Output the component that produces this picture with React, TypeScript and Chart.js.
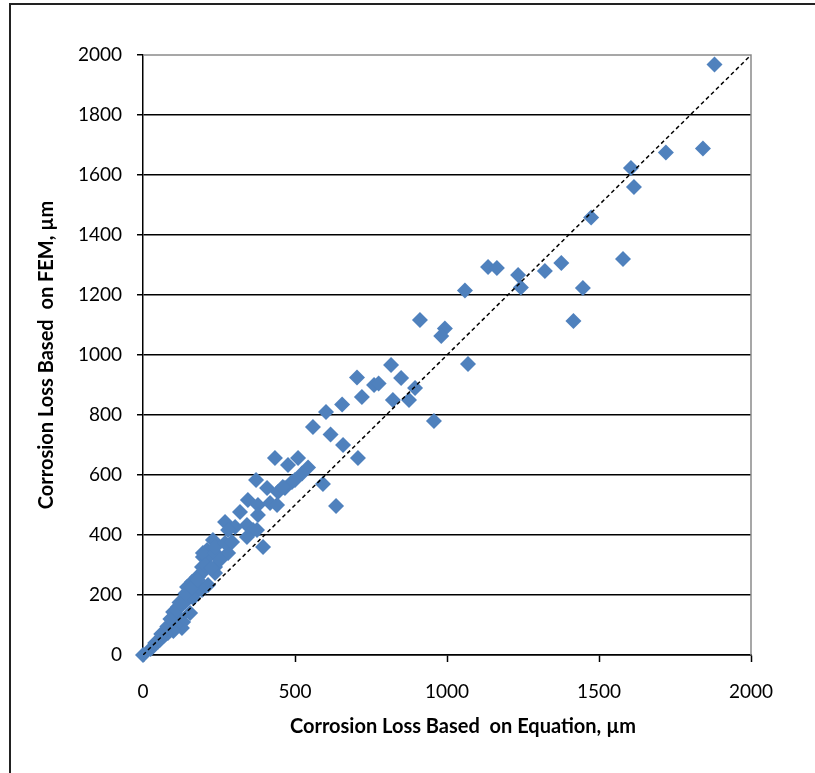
import React, { useEffect, useRef } from "react";
import { Chart, registerables } from "chart.js";

Chart.register(...registerables);

const xTickValues = [0, 500, 1000, 1500, 2000];
const yTickValues = [0, 200, 400, 600, 800, 1000, 1200, 1400, 1600, 1800, 2000];

const equationLoss = [
  1880, 1842, 1720, 1605, 1615, 1474, 1579, 1376, 1322, 1447, 1416, 1234, 1243, 1135, 1164, 1059, 993, 981, 1069, 911,
  816, 849, 760, 775, 704, 720, 655, 602, 822, 875, 895, 957, 559, 617, 658, 707, 592, 635,
  434, 477, 510, 543, 523, 490, 372, 408, 444, 467, 345, 378, 418, 441, 319, 378, 270, 342, 303, 362, 395, 230, 280, 342, 375,
  211, 197, 243, 280, 237, 194, 178,
  0, 25, 40, 50, 62, 70, 82, 90, 95, 105, 99, 115, 138, 155, 132, 128, 145, 161, 181, 214, 194, 171, 197, 237, 211, 197, 237, 253, 237, 270, 293,
  120, 108, 100, 75, 55, 150, 165, 130, 460, 500,
  60, 80, 90, 110, 120, 140, 160, 180, 205, 225
];
const femLoss = [
  1968, 1688, 1675, 1623, 1560, 1458, 1320, 1307, 1280, 1223, 1113, 1267, 1225, 1293, 1290, 1215, 1088, 1063, 970, 1117,
  967, 923, 900, 905, 925, 860, 835, 810, 850, 850, 890, 780, 760, 735, 700, 657, 570, 497,
  657, 633, 657, 625, 605, 577, 583, 557, 543, 557, 517, 500, 507, 500, 477, 467, 443, 433, 427, 417, 360, 383, 417, 393, 417,
  350, 327, 333, 340, 293, 293, 260,
  0, 20, 40, 45, 60, 65, 73, 85, 93, 117, 143, 160, 177, 140, 110, 90, 227, 243, 260, 233, 217, 207, 277, 273, 323, 340, 340, 317, 360, 373, 377,
  125, 100, 80, 70, 50, 200, 190, 170, 560, 583,
  70, 95, 120, 150, 175, 205, 225, 250, 300, 290
];
const lineX = [0, 2000];
const lineY = [0, 2000];

const xTitle = "Corrosion Loss Based  on Equation, µm";
const yTitle = "Corrosion Loss Based  on FEM, µm";

export default function App() {
  const ref = useRef<HTMLCanvasElement | null>(null);
  useEffect(() => {
    if (!ref.current) return;
    const points = equationLoss.map((x, i) => ({ x, y: femLoss[i] }));
    const linePts = lineX.map((x, i) => ({ x, y: lineY[i] }));
    const framePlugin = {
      id: "frame",
      beforeDatasetsDraw(chart: any) {
        const { ctx, chartArea } = chart;
        ctx.save();
        ctx.strokeStyle = "#8a8a8a";
        ctx.lineWidth = 1.5;
        ctx.beginPath();
        ctx.moveTo(chartArea.left, chartArea.top);
        ctx.lineTo(chartArea.right, chartArea.top);
        ctx.lineTo(chartArea.right, chartArea.bottom);
        ctx.stroke();
        ctx.restore();
      },
      afterDraw(chart: any) {
        const { ctx } = chart;
        ctx.save();
        ctx.strokeStyle = "#222";
        ctx.lineWidth = 2;
        ctx.beginPath();
        ctx.moveTo(10, 773);
        ctx.lineTo(10, 4);
        ctx.lineTo(815, 4);
        ctx.stroke();
        ctx.fillStyle = "#000";
        ctx.font = "bold 20px Lato";
        ctx.textAlign = "center";
        ctx.textBaseline = "middle";
        ctx.fillText(xTitle, 463, 727);
        ctx.restore();
      },
    };
    const tickFont = { family: "Lato", size: 19 };
    const titleFont = { family: "Lato", size: 20, weight: "bold" as const };
    const fmt = (v: any) => String(v);
    const chart = new Chart(ref.current, {
      type: "scatter",
      data: {
        datasets: [
          {
            type: "line",
            data: linePts,
            borderColor: "#000",
            borderWidth: 1.5,
            borderDash: [4, 3],
            pointRadius: 0,
            fill: false,
            order: 0,
          } as any,
          {
            data: points,
            pointStyle: "rectRot",
            pointRadius: 8,
            pointHoverRadius: 8,
            backgroundColor: "#4F81BD",
            borderColor: "#4F81BD",
            borderWidth: 0,
            clip: false,
            order: 1,
          } as any,
        ],
      },
      options: {
        responsive: false,
        animation: false,
        layout: { padding: { left: 0, top: 55, right: 64, bottom: 0 } },
        plugins: { legend: { display: false }, tooltip: { enabled: false } },
        scales: {
          x: {
            type: "linear",
            min: 0,
            max: 2000,
            afterBuildTicks: (s: any) => {
              s.ticks = xTickValues.map((v) => ({ value: v }));
            },
            afterFit: (s: any) => {
              s.height = 118;
            },
            grid: { drawOnChartArea: false, drawTicks: true, tickLength: 7, tickColor: "#000", tickWidth: 1.5 },
            border: { color: "#000", width: 1.5 },
            ticks: { color: "#000", font: tickFont, padding: 18, maxRotation: 0, callback: fmt },
            title: { display: false, text: xTitle },
          },
          y: {
            type: "linear",
            min: 0,
            max: 2000,
            afterBuildTicks: (s: any) => {
              s.ticks = yTickValues.map((v) => ({ value: v }));
            },
            afterFit: (s: any) => {
              s.width = 143;
            },
            grid: {
              color: (c: any) => (c.tick && c.tick.value === 2000 ? "rgba(0,0,0,0)" : "#000"),
              lineWidth: 1.5,
              drawTicks: true,
              tickLength: 6,
              tickColor: "#000",
              tickWidth: 1.5,
            },
            border: { color: "#000", width: 1.5 },
            ticks: { color: "#000", font: tickFont, padding: 15, callback: fmt },
            title: { display: true, text: yTitle, color: "#000", font: titleFont, padding: { top: 35, bottom: 0 } },
          },
        },
      },
      plugins: [framePlugin],
    });
    return () => chart.destroy();
  }, []);
  return (
    <div style={{ position: "fixed", left: 0, top: 0, width: 815, height: 773, background: "#fff" }}>
      <canvas ref={ref} width={815} height={773} style={{ display: "block" }} />
    </div>
  );
}
